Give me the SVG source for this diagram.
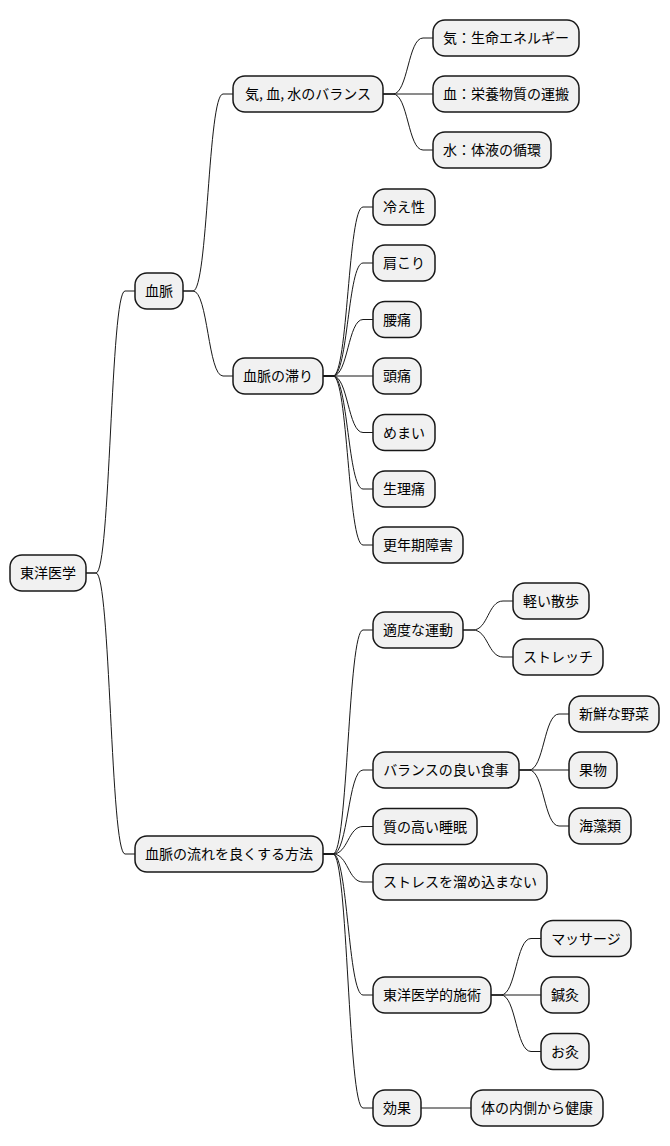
<svg xmlns="http://www.w3.org/2000/svg" width="670" height="1146" viewBox="0 0 670 1146">
<style>
.n rect{fill:#F1F1F1;stroke:#181818;stroke-width:1.5}
.n text{font-family:"Noto Sans CJK JP","Noto Sans",sans-serif;font-size:14px;fill:#000;text-anchor:middle}
#edges path{fill:none;stroke:#181818;stroke-width:1}
</style>
<rect width="670" height="1146" fill="#FFFFFF"/>
<g id="edges">
<path d="M86,573 L96,573 C110.5,573 110.5,291 125,291 L135,291"/>
<path d="M86,573 L96,573 C110.5,573 110.5,854 125,854 L135,854"/>
<path d="M183,291 L193,291 C208,291 208,94 223,94 L233,94"/>
<path d="M183,291 L193,291 C208,291 208,376 223,376 L233,376"/>
<path d="M383,94 L393,94 C408,94 408,38 423,38 L433,38"/>
<path d="M383,94 L433,94"/>
<path d="M383,94 L393,94 C408,94 408,150 423,150 L433,150"/>
<path d="M323,376 L333,376 C348,376 348,207 363,207 L373,207"/>
<path d="M323,376 L333,376 C348,376 348,263 363,263 L373,263"/>
<path d="M323,376 L333,376 C348,376 348,319.5 363,319.5 L373,319.5"/>
<path d="M323,376 L373,376"/>
<path d="M323,376 L333,376 C348,376 348,432.5 363,432.5 L373,432.5"/>
<path d="M323,376 L333,376 C348,376 348,489 363,489 L373,489"/>
<path d="M323,376 L333,376 C348,376 348,545 363,545 L373,545"/>
<path d="M323,854 L333,854 C348,854 348,630 363,630 L373,630"/>
<path d="M323,854 L333,854 C348,854 348,770 363,770 L373,770"/>
<path d="M323,854 L333,854 C348,854 348,826.5 363,826.5 L373,826.5"/>
<path d="M323,854 L333,854 C348,854 348,882 363,882 L373,882"/>
<path d="M323,854 L333,854 C348,854 348,995 363,995 L373,995"/>
<path d="M323,854 L333,854 C348,854 348,1108 363,1108 L373,1108"/>
<path d="M463,630 L473,630 C488,630 488,601 503,601 L513,601"/>
<path d="M463,630 L473,630 C488,630 488,657 503,657 L513,657"/>
<path d="M519,770 L529,770 C544,770 544,714 559,714 L569,714"/>
<path d="M519,770 L569,770"/>
<path d="M519,770 L529,770 C544,770 544,826 559,826 L569,826"/>
<path d="M491,995 L501,995 C516,995 516,938.5 531,938.5 L541,938.5"/>
<path d="M491,995 L541,995"/>
<path d="M491,995 L501,995 C516,995 516,1051.5 531,1051.5 L541,1051.5"/>
<path d="M421,1108 L471,1108"/>
</g>
<g id="n0" class="n"><rect x="10" y="555" width="76" height="36" rx="12"/><text x="48" y="578">東洋医学</text></g>
<g id="n1" class="n"><rect x="135" y="273" width="48" height="36" rx="12"/><text x="159" y="296">血脈</text></g>
<g id="n2" class="n"><rect x="233" y="76" width="150" height="36" rx="12"/><text x="308" y="99">気, 血, 水のバランス</text></g>
<g id="n3" class="n"><rect x="433" y="20" width="146" height="36" rx="12"/><text x="506" y="43">気：生命エネルギー</text></g>
<g id="n4" class="n"><rect x="433" y="76" width="146" height="36" rx="12"/><text x="506" y="99">血：栄養物質の運搬</text></g>
<g id="n5" class="n"><rect x="433" y="132" width="118" height="36" rx="12"/><text x="492" y="155">水：体液の循環</text></g>
<g id="n6" class="n"><rect x="233" y="358" width="90" height="36" rx="12"/><text x="278" y="381">血脈の滞り</text></g>
<g id="n7" class="n"><rect x="373" y="189" width="62" height="36" rx="12"/><text x="404" y="212">冷え性</text></g>
<g id="n8" class="n"><rect x="373" y="245" width="62" height="36" rx="12"/><text x="404" y="268">肩こり</text></g>
<g id="n9" class="n"><rect x="373" y="301.5" width="48" height="36" rx="12"/><text x="397" y="324.5">腰痛</text></g>
<g id="n10" class="n"><rect x="373" y="358" width="48" height="36" rx="12"/><text x="397" y="381">頭痛</text></g>
<g id="n11" class="n"><rect x="373" y="414.5" width="62" height="36" rx="12"/><text x="404" y="437.5">めまい</text></g>
<g id="n12" class="n"><rect x="373" y="471" width="62" height="36" rx="12"/><text x="404" y="494">生理痛</text></g>
<g id="n13" class="n"><rect x="373" y="527" width="90" height="36" rx="12"/><text x="418" y="550">更年期障害</text></g>
<g id="n14" class="n"><rect x="135" y="836" width="188" height="36" rx="12"/><text x="229" y="859">血脈の流れを良くする方法</text></g>
<g id="n15" class="n"><rect x="373" y="612" width="90" height="36" rx="12"/><text x="418" y="635">適度な運動</text></g>
<g id="n16" class="n"><rect x="513" y="583" width="76" height="36" rx="12"/><text x="551" y="606">軽い散歩</text></g>
<g id="n17" class="n"><rect x="513" y="639" width="90" height="36" rx="12"/><text x="558" y="662">ストレッチ</text></g>
<g id="n18" class="n"><rect x="373" y="752" width="146" height="36" rx="12"/><text x="446" y="775">バランスの良い食事</text></g>
<g id="n19" class="n"><rect x="569" y="696" width="90" height="36" rx="12"/><text x="614" y="719">新鮮な野菜</text></g>
<g id="n20" class="n"><rect x="569" y="752" width="48" height="36" rx="12"/><text x="593" y="775">果物</text></g>
<g id="n21" class="n"><rect x="569" y="808" width="62" height="36" rx="12"/><text x="600" y="831">海藻類</text></g>
<g id="n22" class="n"><rect x="373" y="808.5" width="104" height="36" rx="12"/><text x="425" y="831.5">質の高い睡眠</text></g>
<g id="n23" class="n"><rect x="373" y="864" width="174" height="36" rx="12"/><text x="460" y="887">ストレスを溜め込まない</text></g>
<g id="n24" class="n"><rect x="373" y="977" width="118" height="36" rx="12"/><text x="432" y="1000">東洋医学的施術</text></g>
<g id="n25" class="n"><rect x="541" y="920.5" width="90" height="36" rx="12"/><text x="586" y="943.5">マッサージ</text></g>
<g id="n26" class="n"><rect x="541" y="977" width="48" height="36" rx="12"/><text x="565" y="1000">鍼灸</text></g>
<g id="n27" class="n"><rect x="541" y="1033.5" width="48" height="36" rx="12"/><text x="565" y="1056.5">お灸</text></g>
<g id="n28" class="n"><rect x="373" y="1090" width="48" height="36" rx="12"/><text x="397" y="1113">効果</text></g>
<g id="n29" class="n"><rect x="471" y="1090" width="132" height="36" rx="12"/><text x="537" y="1113">体の内側から健康</text></g>
</svg>
